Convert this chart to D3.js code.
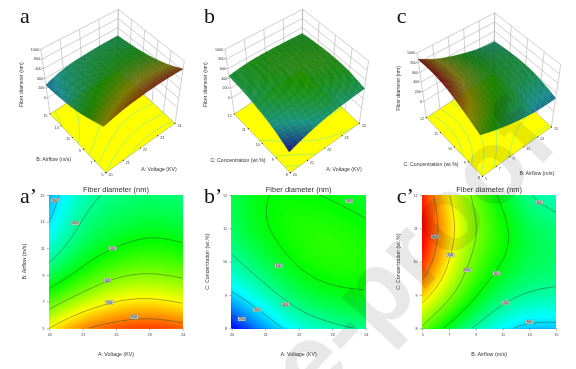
<!DOCTYPE html>
<html>
<head>
<meta charset="utf-8">
<script src="https://cdnjs.cloudflare.com/ajax/libs/d3/7.8.5/d3.min.js"></script>
<style>
  html, body { margin: 0; padding: 0; background: #fff; }
  svg { display: block; filter: blur(0.35px); }
  text { font-family: "Liberation Sans", Arial, sans-serif; fill: #333; }
  .letter { font-family: "Liberation Serif", serif; font-size: 22px; fill: #111; }
  .mark { font-family: "Liberation Sans", sans-serif; font-weight: 700; fill: #e8e8e8; mix-blend-mode: multiply; }
</style>
</head>
<body>
<svg id="chart" width="576" height="369"></svg>
<script>
/*---------------------------
  DATA
---------------------------*/
const voltageTicks = [20, 21, 22, 23, 24];
const airflowTicks = [5, 7, 9, 11, 13, 15];
const concTicks = [8, 9, 10, 11, 12];
const heightTicks = [0, 200, 400, 600, 800, 1000];

const zTitle = 'Fiber diameter (nm)';
const voltageTitle = 'A: Voltage (KV)';
const airflowTitle = 'B: Airflow (m/s)';
const concTitle = 'C: Concentration (wt.%)';

// rows follow the y ticks, columns the x ticks
const aValues = [
  [700, 800, 835, 860, 830],
  [560, 645, 703, 715, 685],
  [437, 525, 590, 605, 585],
  [355, 455, 500, 530, 510],
  [295, 415, 445, 470, 455],
  [265, 385, 415, 430, 420],
];
const bValues = [
  [130, 255, 345, 385, 408],
  [300, 375, 455, 495, 503],
  [390, 455, 525, 540, 530],
  [445, 510, 535, 535, 515],
  [450, 505, 510, 495, 470],
];
const cValues = [
  [590, 475, 385, 315, 275, 280],
  [735, 630, 510, 430, 400, 393],
  [880, 695, 570, 505, 450, 440],
  [920, 735, 605, 525, 450, 430],
  [870, 695, 575, 480, 395, 370],
];

const aLevels = [300, 400, 500, 600, 700, 800];
const bLevels = [200, 300, 400, 500];
const cLevels = [300, 400, 500, 600, 700, 800];

// contour tags: x value, y value, text
const aTags = [[20.17, 14.6, 300], [20.77, 12.9, 400], [21.9, 11, 500], [21.75, 8.6, 600], [21.8, 6.95, 700], [22.55, 5.85, 800]];
const bTags = [[20.3, 8.28, 200], [20.75, 8.56, 300], [21.6, 8.72, 400], [21.4, 9.88, 500], [23.5, 11.82, 500]];
const cTags = [[5.95, 10.75, 800], [7.1, 10.2, 700], [8.35, 9.75, 600], [10.55, 9.65, 500], [11.25, 8.77, 400], [13, 8.19, 300], [13.75, 11.78, 400]];

/*---------------------------
  LAYOUT
---------------------------*/
const svg = d3.select('#chart');
const gridSize = 61;
const plotTop = 195;
const plotBottom = 328.3;

// box corners on screen: F front, R right, L left, B back; low is the floor, high the top
const boxA = {
  F: [[106, 172.7], [103, 113]], R: [[175, 123.3], [184.3, 61]],
  L: [[50, 114], [40.7, 49.3]], B: [[117.5, 70], [118.3, 9.3]],
};
const shiftBox = (box, dx, dy) => {
  const out = {};
  Object.keys(box).forEach((k) => {
    out[k] = box[k].map(p => [p[0] + dx, p[1] + dy]);
  });
  return out;
};

const panels = [
  {
    letter: 'a', values: aValues, xTicks: voltageTicks, yTicks: airflowTicks, levels: aLevels, tags: aTags,
    xTitle: voltageTitle, yTitle: airflowTitle, box: boxA,
    letterPos: [20, 23], xTitlePos: [159, 169.3], yTitlePos: [53.7, 159.3], zTitlePos: [23.3, 84.7],
    plotLeft: 49.3, plotRight: 182.7, sideX: 24,
  },
  {
    letter: 'b', values: bValues, xTicks: voltageTicks, yTicks: concTicks, levels: bLevels, tags: bTags,
    xTitle: voltageTitle, yTitle: concTitle, box: shiftBox(boxA, 184.3, 0),
    letterPos: [204, 23], xTitlePos: [344, 169.3], yTitlePos: [238, 160], zTitlePos: [207.3, 84.7],
    plotLeft: 231.7, plotRight: 365.7, sideX: 207,
  },
  {
    letter: 'c', values: cValues, xTicks: airflowTicks, yTicks: concTicks, levels: cLevels, tags: cTags,
    xTitle: airflowTitle, yTitle: concTitle, box: shiftBox(boxA, 376.4, 3.6),
    letterPos: [396.7, 23], xTitlePos: [537, 173.3], yTitlePos: [431, 164], zTitlePos: [400, 88.3],
    plotLeft: 422.3, plotRight: 556, sideX: 397.7,
  },
];

// blue, cyan, green, yellow, red
const color = d3.scaleLinear()
  .domain([130, 320, 505, 695, 900])
  .range(['#0000ff', '#00ffff', '#00ff00', '#ffff00', '#ff0000'])
  .clamp(true);

/*---------------------------
  HELPERS
---------------------------*/
// a smooth sheet through the values, only to draw them without facets
const resample = (values) => {
  const out = [];
  const columns = values[0].map((_, c) => d3.interpolateBasis(values.map(r => r[c])));
  for (let j = 0; j < gridSize; j += 1) {
    const across = d3.interpolateBasis(columns.map(f => f(j / (gridSize - 1))));
    for (let i = 0; i < gridSize; i += 1) out.push(across(i / (gridSize - 1)));
  }
  return out;
};

const contourGen = d3.contours().size([gridSize, gridSize]);

// iso lines as polylines in unit coordinates, without the closing run round the grid edge
const isoLines = (field, level) => {
  const lines = [];
  contourGen.contour(field, level).coordinates.forEach((poly) => {
    poly.forEach((ring) => {
      let current = [];
      ring.forEach(([gx, gy]) => {
        const inside = gx >= 0.5 - 1e-6 && gx <= gridSize - 0.5 + 1e-6
          && gy >= 0.5 - 1e-6 && gy <= gridSize - 0.5 + 1e-6;
        if (inside) {
          current.push([(gx - 0.5) / (gridSize - 1), (gy - 0.5) / (gridSize - 1)]);
        } else {
          if (current.length > 1) lines.push(current);
          current = [];
        }
      });
      if (current.length > 1) lines.push(current);
    });
  });
  return lines;
};

const lerp = (a, b, t) => [a[0] + (b[0] - a[0]) * t, a[1] + (b[1] - a[1]) * t];

// trilinear map of the box corners
const projector = box => (u, v, w) => {
  const low = lerp(lerp(box.F[0], box.R[0], u), lerp(box.L[0], box.B[0], u), v);
  const high = lerp(lerp(box.F[1], box.R[1], u), lerp(box.L[1], box.B[1], u), v);
  return lerp(low, high, w);
};

const lineGen = d3.line();

/*---------------------------
  3D SURFACE
---------------------------*/
const drawSurface = (p, field) => {
  const g = svg.append('g');
  const project = projector(p.box);
  const uScale = d3.scaleLinear().domain(d3.extent(p.xTicks)).range([0, 1]);
  const vScale = d3.scaleLinear().domain(d3.extent(p.yTicks)).range([0, 1]);
  const wScale = d3.scaleLinear().domain([0, 1000]).range([0.25, 1]);

  // back walls
  const wall = g.append('g').attr('stroke', '#b0b0b0').attr('stroke-width', 0.6).attr('fill', 'none');
  const seg = (a, b) => wall.append('path').attr('d', lineGen([a, b]));
  p.xTicks.forEach((t) => seg(project(uScale(t), 1, 0), project(uScale(t), 1, 1)));
  p.yTicks.forEach((t) => seg(project(1, vScale(t), 0), project(1, vScale(t), 1)));
  heightTicks.forEach((t) => {
    seg(project(0, 1, wScale(t)), project(1, 1, wScale(t)));
    seg(project(1, 0, wScale(t)), project(1, 1, wScale(t)));
  });

  // yellow floor
  g.append('path')
    .attr('d', `${lineGen([project(0, 0, 0), project(1, 0, 0), project(1, 1, 0), project(0, 1, 0)])}Z`)
    .attr('fill', '#ffff00')
    .attr('stroke', '#777')
    .attr('stroke-width', 0.4);

  p.levels.forEach((level) => {
    isoLines(field, level).forEach((ln) => {
      g.append('path')
        .attr('d', lineGen(ln.map(([u, v]) => project(u, v, 0))))
        .attr('fill', 'none')
        .attr('stroke', '#78e6a0')
        .attr('stroke-width', 0.6);
    });
  });

  // floor ticks and labels
  const tickText = (pos, txt, anchor) => g.append('text')
    .attr('x', pos[0]).attr('y', pos[1])
    .attr('font-size', 3.6)
    .attr('text-anchor', anchor)
    .text(txt);
  const dot = pos => g.append('circle').attr('cx', pos[0]).attr('cy', pos[1]).attr('r', 0.6).attr('fill', '#222');

  p.xTicks.forEach((t) => {
    const pos = project(uScale(t), 0, 0);
    dot(pos);
    tickText([pos[0] + 2.5, pos[1] + 3.2], t, 'start');
  });
  p.yTicks.forEach((t) => {
    const pos = project(0, vScale(t), 0);
    dot(pos);
    tickText([pos[0] - 2.5, pos[1] + 2.8], t, 'end');
  });
  heightTicks.forEach((t) => {
    const pos = project(0, 1, wScale(t));
    tickText([pos[0] - 2, pos[1] + 1.2], t, 'end');
    g.append('path').attr('d', lineGen([[pos[0] - 1.5, pos[1]], pos]))
      .attr('stroke', '#555').attr('stroke-width', 0.4);
  });

  // surface cells, far ones first so the near ones paint over them
  const cells = [];
  const zAt = (i, j) => field[j * gridSize + i];
  for (let j = 0; j < gridSize - 1; j += 1) {
    for (let i = 0; i < gridSize - 1; i += 1) {
      cells.push({ i, j, depth: i + j });
    }
  }
  cells.sort((a, b) => b.depth - a.depth);

  const unit = gridSize - 1;
  cells.forEach(({ i, j }) => {
    const z00 = zAt(i, j);
    const z10 = zAt(i + 1, j);
    const z01 = zAt(i, j + 1);
    const z11 = zAt(i + 1, j + 1);
    const mean = (z00 + z10 + z01 + z11) / 4;
    // slope in box units, light comes from the front corner
    const gx = ((z10 + z11 - z00 - z01) / 2) * unit / 1000;
    const gy = ((z01 + z11 - z00 - z10) / 2) * unit / 1000;
    const ndotl = (0.3 * (gx + gy) + 0.9) / Math.hypot(gx * 0.6, gy * 0.6, 1);
    const shade = 0.2 + 0.3 * Math.max(0, ndotl);
    const c = d3.rgb(color(mean));
    const fill = d3.rgb(c.r * shade + 12, c.g * shade + 8, c.b * shade + 8).formatHex();
    const quad = [
      project(i / unit, j / unit, wScale(z00)),
      project((i + 1) / unit, j / unit, wScale(z10)),
      project((i + 1) / unit, (j + 1) / unit, wScale(z11)),
      project(i / unit, (j + 1) / unit, wScale(z01)),
    ];
    g.append('path')
      .attr('d', `${lineGen(quad)}Z`)
      .attr('fill', fill)
      .attr('stroke', fill)
      .attr('stroke-width', 0.3);
  });

  // titles
  g.append('text')
    .attr('transform', `translate(${p.zTitlePos}) rotate(-90)`)
    .attr('text-anchor', 'middle')
    .attr('font-size', 5.1)
    .text(zTitle);
  g.append('text').attr('x', p.xTitlePos[0]).attr('y', p.xTitlePos[1] + 1.8)
    .attr('text-anchor', 'middle').attr('font-size', 5.2).text(p.xTitle);
  g.append('text').attr('x', p.yTitlePos[0]).attr('y', p.yTitlePos[1] + 1.8)
    .attr('text-anchor', 'middle').attr('font-size', 5.2).text(p.yTitle);
  g.append('text').attr('class', 'letter').attr('x', p.letterPos[0]).attr('y', p.letterPos[1]).text(p.letter);
};

/*---------------------------
  CONTOUR MAP
---------------------------*/
const drawMap = (p, field, idx) => {
  const g = svg.append('g');
  const x = d3.scaleLinear().domain(d3.extent(p.xTicks)).range([p.plotLeft, p.plotRight]);
  const y = d3.scaleLinear().domain(d3.extent(p.yTicks)).range([plotBottom, plotTop]);
  const xGrid = d3.scaleLinear().domain([0.5, gridSize - 0.5]).range([p.plotLeft, p.plotRight]);
  const yGrid = d3.scaleLinear().domain([0.5, gridSize - 0.5]).range([plotBottom, plotTop]);
  const toScreen = d3.geoPath(d3.geoTransform({
    point(px, py) { this.stream.point(xGrid(px), yGrid(py)); },
  }));

  const clipId = `plot-${idx}`;
  g.append('clipPath').attr('id', clipId).append('rect')
    .attr('x', p.plotLeft).attr('y', plotTop)
    .attr('width', p.plotRight - p.plotLeft).attr('height', plotBottom - plotTop);

  const plot = g.append('g').attr('clip-path', `url(#${clipId})`);
  const bandStep = 5;
  plot.append('rect')
    .attr('x', p.plotLeft).attr('y', plotTop)
    .attr('width', p.plotRight - p.plotLeft).attr('height', plotBottom - plotTop)
    .attr('fill', color(d3.min(field)));
  plot.selectAll('path.band')
    .data(contourGen.thresholds(d3.range(100, 1000, bandStep))(field))
    .join('path')
    .attr('class', 'band')
    .attr('d', toScreen)
    .attr('fill', d => color(d.value + bandStep / 2));

  p.levels.forEach((level) => {
    isoLines(field, level).forEach((ln) => {
      plot.append('path')
        .attr('d', lineGen(ln.map(([u, v]) => [
          p.plotLeft + u * (p.plotRight - p.plotLeft),
          plotBottom - v * (plotBottom - plotTop),
        ])))
        .attr('fill', 'none')
        .attr('stroke', '#2c4a2c')
        .attr('stroke-width', 0.45);
    });
  });

  // contour tags
  p.tags.forEach(([tx, ty, label]) => {
    g.append('rect')
      .attr('x', x(tx) - 3.8).attr('y', y(ty) - 2)
      .attr('width', 7.6).attr('height', 4)
      .attr('fill', '#c6d0c4').attr('stroke', '#7d857b').attr('stroke-width', 0.3);
    g.append('text')
      .attr('x', x(tx)).attr('y', y(ty) + 1.2)
      .attr('text-anchor', 'middle').attr('font-size', 3.3)
      .text(label);
  });

  // axes
  const xAxis = g.append('g')
    .attr('transform', `translate(0, ${plotBottom})`)
    .call(d3.axisBottom(x).tickValues(p.xTicks).tickFormat(d3.format('d')).tickSize(2.5).tickPadding(2.2));
  const yAxis = g.append('g')
    .attr('transform', `translate(${p.plotLeft}, 0)`)
    .call(d3.axisLeft(y).tickValues(p.yTicks).tickFormat(d3.format('d')).tickSize(2.5).tickPadding(2.2));
  [xAxis, yAxis].forEach((axis) => {
    axis.select('.domain').remove();
    axis.selectAll('line').attr('stroke', '#444').attr('stroke-width', 0.4);
    axis.selectAll('text').attr('font-size', 3.6).attr('fill', '#333').attr('font-family', null);
  });

  g.append('text')
    .attr('x', (p.plotLeft + p.plotRight) / 2).attr('y', 192.3)
    .attr('text-anchor', 'middle').attr('font-size', 7.5)
    .text(zTitle);
  g.append('text')
    .attr('x', (p.plotLeft + p.plotRight) / 2).attr('y', 355.5)
    .attr('text-anchor', 'middle').attr('font-size', 5.3)
    .text(p.xTitle);
  g.append('text')
    .attr('transform', `translate(${p.sideX + 2}, ${(plotTop + plotBottom) / 2}) rotate(-90)`)
    .attr('text-anchor', 'middle').attr('font-size', 5.3)
    .text(p.yTitle);
  g.append('text').attr('class', 'letter')
    .attr('x', p.letterPos[0]).attr('y', 203)
    .text(`${p.letter}’`);
};

panels.forEach((p, idx) => {
  const field = resample(p.values);
  drawSurface(p, field);
  drawMap(p, field, idx);
});

// pale diagonal stamp across the figure
svg.append('text')
  .attr('class', 'mark')
  .attr('transform', 'translate(238, 490) rotate(-47)')
  .attr('font-size', 105)
  .text('Pre-proof');
</script>
</body>
</html>
